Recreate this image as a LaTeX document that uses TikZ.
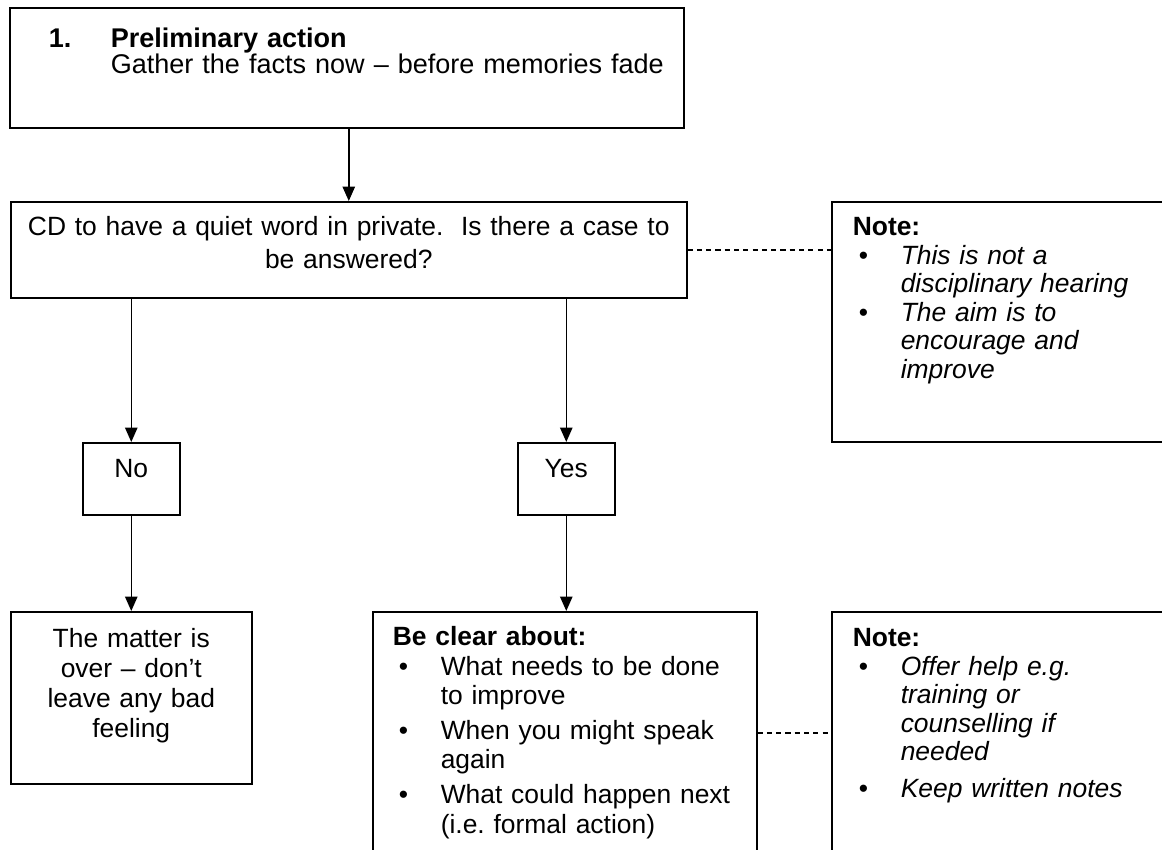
\documentclass[tikz,border=0pt]{standalone}
\usepackage{fontspec}
\setmainfont{Liberation Sans}
\usepackage{tikz}
\usetikzlibrary{arrows.meta,positioning}
\frenchspacing
\newlength{\px}
\setlength{\px}{0.4845pt}
\newcommand{\bitem}{\makebox[48\px][l]{\hspace*{6\px}•}}
\newcommand{\bindent}{\hspace*{48\px}}
\tikzset{
  cbox/.style={draw,line width=0.75pt,anchor=north west,inner ysep=0pt,font=\fontsize{12.8}{13.8}\selectfont},
  ctext/.style={cbox,align=center,inner xsep=0pt},
  lbox/.style={cbox,align=left,inner xsep=21\px,text width=320\px,text height=34\px},
  flow/.style={-{Triangle[length=7pt,width=6pt]},line width=0.75pt},
  link/.style={line width=0.75pt,dash pattern=on 2.5pt off 2pt},
}
\begin{document}
\begin{tikzpicture}[x=0.4845pt,y=-0.4845pt]
  \useasboundingbox (0,0) rectangle (1162,850);
  \clip (0,0) rectangle (1162,850);
  \node[cbox,align=left,inner xsep=0pt,text width=674\px,text height=40\px,text depth=80\px,font=\fontsize{13.1}{15}\selectfont] (pre) at (9,7)
    {\hspace*{39\px}{\bfseries\makebox[62\px][l]{1.}Preliminary action}\\[-2.4pt]
     \hspace*{101\px}\mbox{Gather the facts now – before memories fade}};
  \node[ctext,inner xsep=10\px,text width=656\px,text height=34\px,text depth=62\px,font=\fontsize{12.8}{16}\selectfont] (quiet) at (10,201)
    {CD to have a quiet word in private.\ \ Is there a case to\\ be answered?};
  \node[lbox,text depth=206\px] (note1) at (831,201)
    {\textbf{Note:}\\
     \bitem\textit{This is not a}\\ \bindent\textit{disciplinary hearing}\\
     \bitem\textit{The aim is to}\\ \bindent\textit{encourage and}\\ \bindent\textit{improve}};
  \node[ctext,text width=97\px,text height=35\px,text depth=37\px] (no) at (82,442) {No};
  \node[ctext,text width=97\px,text height=35\px,text depth=37\px] (yes) at (517,442) {Yes};
  \node[ctext,text width=241\px,text height=36\px,text depth=136\px,font=\fontsize{12.8}{14.5}\selectfont] (matter) at (10,611)
    {The matter is\\ over – don’t\\ leave any bad\\ feeling};
  \node[cbox,align=left,inner xsep=20\px,text width=344\px,text height=34\px,text depth=208\px,font=\fontsize{12.8}{14.3}\selectfont] (clear) at (372,611)
    {\textbf{Be clear about:}\\
     \bitem What needs to be done\\ \bindent to improve\\[2.5pt]
     \bitem When you might speak\\ \bindent again\\[2.5pt]
     \bitem What could happen next\\ \bindent (i.e. formal action)};
  \node[lbox,text height=35\px,text depth=207\px] (note2) at (831,611)
    {\textbf{Note:}\\
     \bitem\textit{Offer help e.g.}\\ \bindent\textit{training or}\\ \bindent\textit{counselling if}\\ \bindent\textit{needed}\\[4pt]
     \bitem\textit{Keep written notes}};
  \draw[flow] (pre.south -| quiet.north) -- (quiet.north);
  \draw[flow] (quiet.south -| no.north) -- (no.north);
  \draw[flow] (quiet.south -| yes.north) -- (yes.north);
  \draw[flow] (no.south) -- (no.south |- matter.north);
  \draw[flow] (yes.south) -- (yes.south |- clear.north);
  \draw[link] (quiet.east) -- (quiet.east -| note1.west);
  \draw[link] (clear.east) -- (note2.west);
\end{tikzpicture}
\end{document}
